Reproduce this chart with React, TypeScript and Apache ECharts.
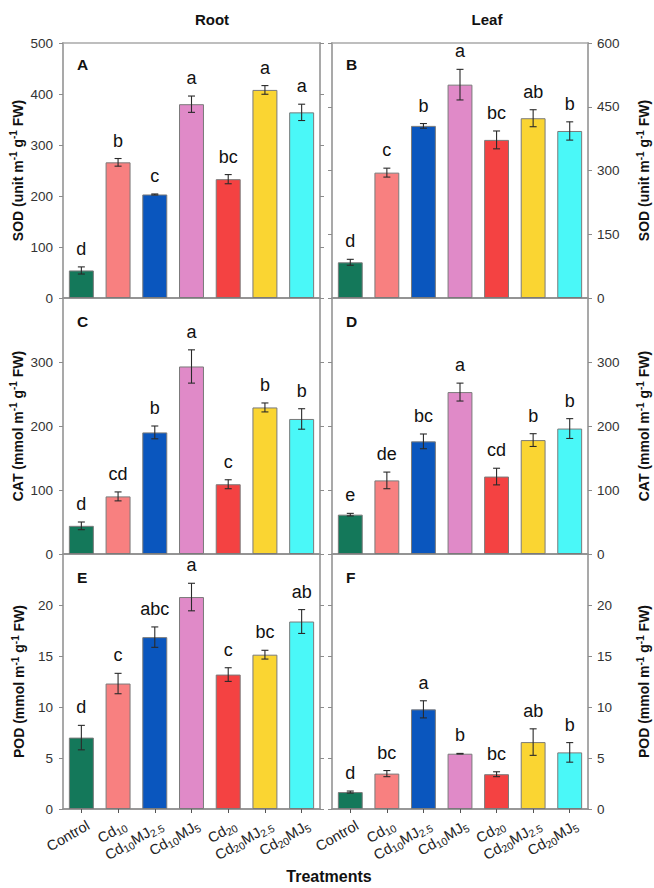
import React, { useEffect, useRef } from 'react';
import * as echarts from 'echarts';

// Treatments on the category axis
const treatments = ['Control', 'Cd10', 'Cd10MJ2.5', 'Cd10MJ5', 'Cd20', 'Cd20MJ2.5', 'Cd20MJ5'];
const barColors = ['#14785A', '#F88080', '#0A56BE', '#E08AC8', '#F44242', '#FAD532', '#4AF8F8'];

// SOD activity
const sodRoot = [54, 266, 203, 380, 233, 408, 364];
const sodRootErr = [7, 7.5, 1, 16, 9, 8.5, 16];
const sodRootLetters = ['d', 'b', 'c', 'a', 'bc', 'a', 'a'];
const sodLeaf = [84, 295, 405, 502, 372, 423, 393];
const sodLeafErr = [7, 10.5, 5.5, 36, 21, 20, 21.5];
const sodLeafLetters = ['d', 'c', 'b', 'a', 'bc', 'ab', 'b'];

// CAT activity
const catRoot = [44, 90, 190, 293, 109, 229, 211];
const catRootErr = [6, 7, 10, 26, 7, 7, 16];
const catRootLetters = ['d', 'cd', 'b', 'a', 'c', 'b', 'b'];
const catLeaf = [61.5, 115, 176, 253, 121, 178, 196];
const catLeafErr = [2, 13, 11.5, 14, 13, 10, 15.5];
const catLeafLetters = ['e', 'de', 'bc', 'a', 'cd', 'b', 'b'];

// POD activity
const podRoot = [7.0, 12.3, 16.85, 20.78, 13.18, 15.13, 18.38];
const podRootErr = [1.2, 1.0, 1.0, 1.35, 0.67, 0.43, 1.17];
const podRootLetters = ['d', 'c', 'abc', 'a', 'c', 'bc', 'ab'];
const podLeaf = [1.66, 3.47, 9.77, 5.42, 3.41, 6.56, 5.55];
const podLeafErr = [0.1, 0.3, 0.84, 0.03, 0.24, 1.3, 0.96];
const podLeafLetters = ['d', 'bc', 'a', 'b', 'bc', 'ab', 'b'];

// Axis ranges: [max, interval]
const sodRootAxis = [500, 100];
const sodLeafAxis = [600, 150];
const catAxis = [400, 100];
const podAxis = [25, 5];

const FONT = '"Liberation Sans", Arial, Helvetica, sans-serif';

const yTitle = (enzyme: string, unit: string) =>
  `{n|${enzyme} (${unit} m}{s|-1}{n| g}{s|-1}{n| FW)}`;

const treatmentLabel = (s: string) =>
  s
    .split(/(\d+(?:\.\d+)?)/)
    .filter(Boolean)
    .map((p) => (/^\d/.test(p) ? `{s|${p}}` : `{n|${p}}`))
    .join('');

type Panel = {
  tag: string;
  row: number;
  col: number;
  values: number[];
  errs: number[];
  letters: string[];
  axis: number[];
  title: string;
  showMax: boolean;
};

const panels: Panel[] = [
  { tag: 'A', row: 0, col: 0, values: sodRoot, errs: sodRootErr, letters: sodRootLetters, axis: sodRootAxis, title: yTitle('SOD', 'unit'), showMax: true },
  { tag: 'B', row: 0, col: 1, values: sodLeaf, errs: sodLeafErr, letters: sodLeafLetters, axis: sodLeafAxis, title: yTitle('SOD', 'unit'), showMax: true },
  { tag: 'C', row: 1, col: 0, values: catRoot, errs: catRootErr, letters: catRootLetters, axis: catAxis, title: yTitle('CAT', 'mmol'), showMax: false },
  { tag: 'D', row: 1, col: 1, values: catLeaf, errs: catLeafErr, letters: catLeafLetters, axis: catAxis, title: yTitle('CAT', 'mmol'), showMax: false },
  { tag: 'E', row: 2, col: 0, values: podRoot, errs: podRootErr, letters: podRootLetters, axis: podAxis, title: yTitle('POD', 'mmol'), showMax: false },
  { tag: 'F', row: 2, col: 1, values: podLeaf, errs: podLeafErr, letters: podLeafLetters, axis: podAxis, title: yTitle('POD', 'mmol'), showMax: false },
];

const colLeft = [63, 332];
const colWidth = [257, 256];
const rowTop = [43, 298, 554];
const rowHeight = [255, 256, 255];
const tagY = [64, 321, 577];
const tagX = [77, 346];

const VLINE = '#a9a9a9';
const HLINE = '#8c8c8c';

function buildOption(): echarts.EChartsOption {
  const grid: any[] = [];
  const xAxis: any[] = [];
  const yAxis: any[] = [];
  const series: any[] = [];
  const graphic: any[] = [];

  panels.forEach((p, i) => {
    grid.push({
      left: colLeft[p.col],
      top: rowTop[p.row],
      width: colWidth[p.col],
      height: rowHeight[p.row],
      show: true,
      borderColor: VLINE,
      borderWidth: 1.5,
      backgroundColor: 'transparent',
    });

    const bottomRow = p.row === 2;
    xAxis.push({
      type: 'category',
      gridIndex: i,
      data: treatments,
      axisLine: { lineStyle: { color: HLINE, width: 1.5 } },
      axisTick: { show: bottomRow, alignWithLabel: true, length: 4, lineStyle: { color: '#555' } },
      axisLabel: {
        show: bottomRow,
        interval: 0,
        rotate: 30,
        margin: 19,
        padding: [0, -8, 0, 0],
        formatter: (v: string) => treatmentLabel(v),
        rich: {
          n: { fontSize: 14.5, lineHeight: 18, color: '#222', fontFamily: FONT },
          s: { fontSize: 10.5, lineHeight: 10, padding: [8, 0, 0, 0], color: '#222', fontFamily: FONT },
        },
      },
      splitLine: { show: false },
    });

    const [max, interval] = p.axis;
    const leftCol = p.col === 0;
    // axis carrying the labels and the title
    yAxis.push({
      type: 'value',
      gridIndex: i,
      position: leftCol ? 'left' : 'right',
      min: 0,
      max,
      interval,
      splitLine: { show: false },
      axisLine: { show: true, lineStyle: { color: VLINE, width: 2 } },
      axisTick: { show: true, length: 4, lineStyle: { color: HLINE } },
      axisLabel: {
        showMaxLabel: p.showMax,
        margin: leftCol ? 10 : 9,
        fontSize: 13.5,
        color: '#333',
        fontFamily: FONT,
      },
      name: p.title,
      nameLocation: 'middle',
      nameRotate: 90,
      nameGap: leftCol ? 35 : 47,
      nameTextStyle: {
        rich: {
          n: { fontSize: 14, fontWeight: 'bold', lineHeight: 18, color: '#111', fontFamily: FONT },
          s: { fontSize: 10, fontWeight: 'bold', lineHeight: 10, padding: [0, 0, 8, 0], color: '#111', fontFamily: FONT },
        },
      },
    });
    // inner border with tick marks only
    yAxis.push({
      type: 'value',
      gridIndex: i,
      position: leftCol ? 'right' : 'left',
      min: 0,
      max,
      interval,
      splitLine: { show: false },
      axisLine: { show: true, lineStyle: { color: VLINE, width: 2 } },
      axisTick: { show: true, length: 4, lineStyle: { color: HLINE } },
      axisLabel: { show: false },
    });

    series.push({
      type: 'bar',
      xAxisIndex: i,
      yAxisIndex: 2 * i,
      barWidth: '68%',
      data: p.values.map((v, k) => ({
        value: v,
        itemStyle: { color: barColors[k], borderColor: '#7a7a7a', borderWidth: 1 },
      })),
    });

    const letters = p.letters;
    series.push({
      type: 'custom',
      xAxisIndex: i,
      yAxisIndex: 2 * i,
      z: 5,
      data: p.values.map((v, k) => [k, v, p.errs[k]]),
      encode: { x: 0, y: 1 },
      renderItem: (params: any, api: any) => {
        const x = api.value(0);
        const v = api.value(1);
        const e = api.value(2);
        const top = api.coord([x, v + e]);
        const bot = api.coord([x, v - e]);
        const cap = 3.5;
        const stroke = { stroke: '#2a2a2a', lineWidth: 1.1 };
        return {
          type: 'group',
          children: [
            { type: 'line', shape: { x1: top[0], y1: top[1], x2: bot[0], y2: bot[1] }, style: stroke },
            { type: 'line', shape: { x1: top[0] - cap, y1: top[1], x2: top[0] + cap, y2: top[1] }, style: stroke },
            { type: 'line', shape: { x1: bot[0] - cap, y1: bot[1], x2: bot[0] + cap, y2: bot[1] }, style: stroke },
            {
              type: 'text',
              x: top[0],
              y: top[1] - 9,
              style: {
                text: letters[params.dataIndex],
                fontSize: 18,
                fontFamily: FONT,
                fill: '#111',
                align: 'center',
                verticalAlign: 'bottom',
              },
            },
          ],
        };
      },
    });

    graphic.push({
      type: 'text',
      left: tagX[p.col],
      top: tagY[p.row] - 8,
      style: { text: p.tag, fontSize: 15.5, fontWeight: 'bold', fontFamily: FONT, fill: '#111' },
    });
  });

  graphic.push(
    {
      type: 'text',
      x: 212,
      y: 19,
      style: { text: 'Root', fontSize: 15, fontWeight: 'bold', fontFamily: FONT, fill: '#111', align: 'center', verticalAlign: 'middle' },
    },
    {
      type: 'text',
      x: 487,
      y: 19,
      style: { text: 'Leaf', fontSize: 15, fontWeight: 'bold', fontFamily: FONT, fill: '#111', align: 'center', verticalAlign: 'middle' },
    },
    {
      type: 'text',
      x: 329,
      y: 876,
      style: { text: 'Treatments', fontSize: 16, fontWeight: 'bold', fontFamily: FONT, fill: '#111', align: 'center', verticalAlign: 'middle' },
    }
  );

  return {
    animation: false,
    backgroundColor: '#ffffff',
    textStyle: { fontFamily: FONT },
    grid,
    xAxis,
    yAxis,
    series,
    graphic,
  };
}

export default function App() {
  const ref = useRef<HTMLDivElement>(null);

  useEffect(() => {
    if (!ref.current) return;
    const chart = echarts.init(ref.current, undefined, { renderer: 'svg' });
    chart.setOption(buildOption());
    return () => chart.dispose();
  }, []);

  return (
    <div
      ref={ref}
      style={{ position: 'fixed', left: 0, top: 0, width: 654, height: 888, background: '#fff' }}
    />
  );
}
